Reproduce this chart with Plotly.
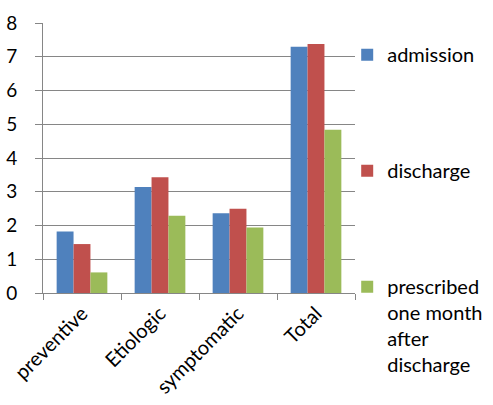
import plotly.graph_objects as go

categories = ["preventive", "Etiologic", "symptomatic", "Total"]
series_names = ["admission", "discharge", "prescribed<br>one month<br>after<br>discharge"]
admission = [1.82, 3.14, 2.36, 7.30]
discharge = [1.45, 3.43, 2.50, 7.38]
prescribed = [0.61, 2.29, 1.94, 4.84]
colors = ["#4F81BD", "#C0504D", "#9BBB59"]
y_ticks = [0, 1, 2, 3, 4, 5, 6, 7, 8]

FONT = "Lato"

fig = go.Figure()
for i, (name, vals) in enumerate(zip(series_names, [admission, discharge, prescribed])):
    fig.add_trace(go.Bar(
        x=categories, y=vals, name=name, marker=dict(color=colors[i], line=dict(width=0)),
        legendgroup=f"g{i}",
    ))

fig.update_layout(
    width=493, height=405,
    margin=dict(l=43, r=138, t=23, b=112, autoexpand=False),
    paper_bgcolor="white", plot_bgcolor="white",
    barmode="group", bargap=0.35, bargroupgap=0,
    font=dict(family=FONT, size=19, color="black"),
    showlegend=True,
    legend=dict(
        x=0.975, xanchor="left", y=0.955, yanchor="top",
        traceorder="grouped", tracegroupgap=87, valign="top",
        font=dict(family=FONT, size=20, color="black"),
        itemwidth=30, bgcolor="rgba(0,0,0,0)", maxheight=420,
    ),
    xaxis=dict(
        showline=True, linecolor="#868686", linewidth=1,
        ticks="outside", tickson="boundaries", ticklen=6, tickcolor="#868686",
        tickangle=-45, tickfont=dict(family=FONT, size=20, color="black"),
        showgrid=False, mirror=False,
    ),
    yaxis=dict(
        range=[0, 8], tickvals=y_ticks, ticktext=[str(v) for v in y_ticks],
        showline=True, linecolor="#868686", linewidth=1,
        ticks="outside", ticklen=7, tickcolor="#868686",
        showgrid=True, gridcolor="#868686", gridwidth=1,
        tickfont=dict(family=FONT, size=19, color="black"),
        ticklabelstandoff=14, zeroline=False,
    ),
)

fig.write_html("out.html")
